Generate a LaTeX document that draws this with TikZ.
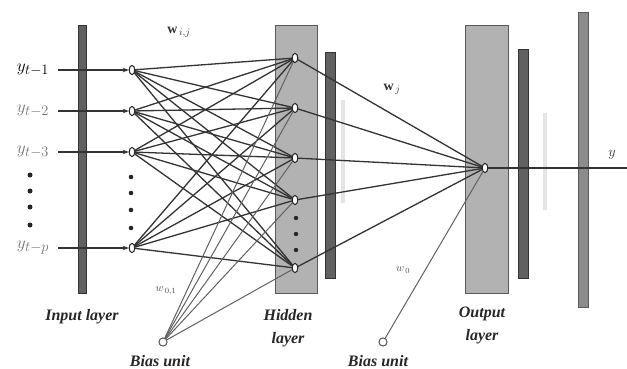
\documentclass[tikz,border=0pt]{standalone}
\usepackage{fontspec}
\setmainfont{Liberation Serif}
\usetikzlibrary{arrows.meta,shapes.geometric}
\begin{document}
\begin{tikzpicture}[x=1pt,y=-1pt,
  neuron/.style={ellipse,draw=black!85,fill=white,line width=0.9pt,minimum width=5.5pt,minimum height=9pt,inner sep=0pt},
  biasu/.style={circle,draw=black!70,fill=white,line width=0.8pt,minimum size=8pt,inner sep=0pt},
  conn/.style={draw=black!80,line width=1.3pt},
  bconn/.style={draw=black!62,line width=1pt},
  inarrow/.style={draw=black!80,line width=1.1pt,-{Stealth[length=6pt,width=4.5pt]}},
  bar/.style={fill=black!62,draw=black!80,line width=0.7pt},
  lightbar/.style={fill=black!45,draw=black!65,line width=0.7pt},
  layerbox/.style={fill=black!30,draw=black!65,line width=0.9pt},
  ghost/.style={fill=black!10},
  inlabel/.style={font=\fontsize{19}{19}\selectfont,inner sep=1pt,anchor=center},
  caption/.style={font=\bfseries\itshape\fontsize{16}{23}\selectfont,text=black!85,align=center},
  wlabel/.style={font=\fontsize{14}{14}\selectfont,text=black!80},
  swlabel/.style={font=\fontsize{11}{11}\selectfont,text=black!70},
  dotmark/.style={fill=black!85}
]
\useasboundingbox (0,0) rectangle (627,369);

% bars and layer boxes
\path[bar] (78,25) rectangle (86,293);
\path[layerbox] (275,25) rectangle (317,293);
\path[bar] (325,52) rectangle (335,278);
\path[ghost] (341,100) rectangle (345,203);
\path[layerbox] (465,25) rectangle (508,293);
\path[bar] (518,49) rectangle (528,278);
\path[ghost] (543,113) rectangle (547,210);
\path[lightbar] (578,12) rectangle (588,307);

% neurons
\node[neuron] (i1) at (132,70) {};
\node[neuron] (i2) at (132,111) {};
\node[neuron] (i3) at (132,152) {};
\node[neuron] (i4) at (132,248) {};
\node[neuron] (h1) at (295,58) {};
\node[neuron] (h2) at (295,108) {};
\node[neuron] (h3) at (295,158) {};
\node[neuron] (h4) at (295,200) {};
\node[neuron] (h5) at (295,268) {};
\node[neuron] (o) at (485,168) {};
\node[biasu] (b1) at (163,342) {};
\node[biasu] (b2) at (383,342) {};
\coordinate (yout) at (627,168);

% input labels
\node[inlabel,text=black] (l1) at (33,70) {$y_{t-1}$};
\node[inlabel,text=black!55] (l2) at (33,111) {$y_{t-2}$};
\node[inlabel,text=black!55] (l3) at (33,152) {$y_{t-3}$};
\node[inlabel,text=black!55] (l4) at (33,248) {$y_{t-p}$};

% connections
\foreach \a in {i1,i2,i3,i4}{
  \foreach \b in {h1,h2,h3,h4,h5}{
    \draw[conn] (\a) -- (\b);
  }
}
\foreach \b in {h1,h2,h3,h4,h5}{
  \draw[bconn] (b1) -- (\b);
  \draw[conn] (\b) -- (o);
}
\draw[bconn] (b2) -- (o);
\draw[conn] (o) -- (yout);
\draw[inarrow] ([xshift=8pt]l1.east) -- (i1.west);
\draw[inarrow] ([xshift=8pt]l2.east) -- (i2.west);
\draw[inarrow] ([xshift=8pt]l3.east) -- (i3.west);
\draw[inarrow] ([xshift=8pt]l4.east) -- (i4.west);

% redraw neurons on top
\foreach \x/\y in {132/70,132/111,132/152,132/248,295/58,295/108,295/158,295/200,295/268,485/168}{
  \node[neuron] at (\x,\y) {};
}
\node[biasu] at (163,342) {};
\node[biasu] at (383,342) {};

% dots
\foreach \y in {175,191,207,225}{
  \fill[dotmark] (30,\y) circle (2.5);
}
\foreach \y in {177,193,210,228}{
  \fill[dotmark] (131,\y) circle (2.3);
}
\foreach \y in {218,234,250}{
  \fill[dotmark] (296,\y) circle (2.2);
}

% weight labels
\node[wlabel] (wij) at (179,32) {$\mathbf{w}_{\,i,j}$};
\node[wlabel] (wj) at (392,89) {$\mathbf{w}_{\,j}$};
\node[swlabel] (w01) at (166,291) {$w_{\,0,1}$};
\node[swlabel] (w0) at (403,270) {$w_{\,0}$};
\node[font=\fontsize{15}{15}\selectfont,text=black!80] (ylab) at (612,155) {$y$};

% captions
\node[caption] (cin) at (82,317) {Input layer};
\node[caption] (chid) at (288,328) {Hidden\\layer};
\node[caption] (cout) at (482,325) {Output\\layer};
\node[caption] (cb1) at (160,361) {Bias unit};
\node[caption] (cb2) at (378,361) {Bias unit};
\end{tikzpicture}
\end{document}
